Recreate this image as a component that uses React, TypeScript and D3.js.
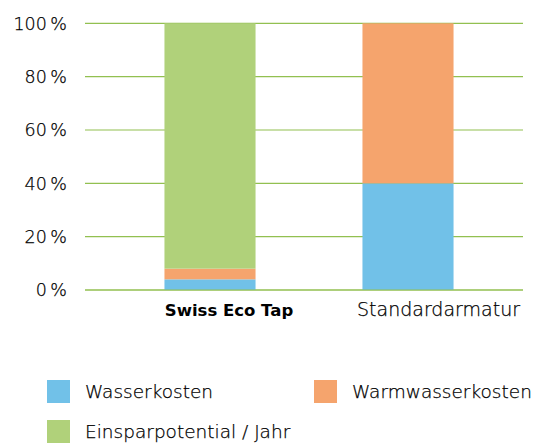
import React from "react";
import * as d3 from "d3";

const categories = ["Swiss Eco Tap", "Standardarmatur"];
const seriesNames = ["Wasserkosten", "Warmwasserkosten", "Einsparpotential / Jahr"];
const wasserkosten = [4, 40];
const warmwasserkosten = [4, 60];
const einsparpotential = [92, 0];
const yTicks = [0, 20, 40, 60, 80, 100];
const colors = ["#71c1e8", "#f5a46d", "#b0d17a"];

const W = 546;
const H = 446;
const FONT = "'DejaVu Sans', sans-serif";

export default function App() {
  const y = d3.scaleLinear().domain([0, 100]).range([290, 23.3]);
  const x = d3.scaleBand().domain(categories).range([111, 507]).paddingInner(0.54).paddingOuter(0.27);
  const gridX0 = 85;
  const gridX1 = 523;
  const labelCenters = [229, 438.5];

  const rows = categories.map((c, i) => ({
    cat: c,
    w: wasserkosten[i],
    ww: warmwasserkosten[i],
    e: einsparpotential[i],
  }));
  const stack = d3.stack<any>().keys(["w", "ww", "e"])(rows);

  const legend = [
    { name: seriesNames[0], color: colors[0], x: 47, y: 380 },
    { name: seriesNames[1], color: colors[1], x: 314, y: 380 },
    { name: seriesNames[2], color: colors[2], x: 47, y: 420 },
  ];

  return (
    <svg width={W} height={H} style={{ position: "absolute", left: 0, top: 0 }} fontFamily={FONT}>
      <rect width={W} height={H} fill="#fff" />
      {yTicks.map((t) => (
        <g key={t}>
          <line x1={gridX0} x2={gridX1} y1={y(t)} y2={y(t)} stroke="#92c050" strokeWidth={1.2} />
          <text x={67} y={y(t)} dy="0.36em" textAnchor="end" fontSize={17.5} fontWeight={300} fill="#000" stroke="#000" strokeWidth={0.25}>
            {t}{"\u2009"}%
          </text>
        </g>
      ))}
      {stack.map((s, si) => (
        <g key={si} fill={colors[si]}>
          {s.map((d, i) =>
            d[1] - d[0] > 0 ? (
              <rect
                key={i}
                x={x(categories[i])!}
                width={x.bandwidth()}
                y={y(d[1])}
                height={y(d[0]) - y(d[1])}
              />
            ) : null
          )}
        </g>
      ))}
      <line x1={gridX0} x2={gridX1} y1={y(0)} y2={y(0)} stroke="#92c050" strokeWidth={1.2} />
      {categories.map((c, i) => (
        <text
          key={c}
          x={labelCenters[i]}
          y={316}
          textAnchor="middle"
          fontSize={i === 0 ? 16.5 : 19}
          fontWeight={i === 0 ? "bold" : 300}
          fill="#000"
          stroke={i === 0 ? "none" : "#000"}
          strokeWidth={0.25}
        >
          {c}
        </text>
      ))}
      {legend.map((l) => (
        <g key={l.name}>
          <rect x={l.x} y={l.y} width={23} height={23} fill={l.color} />
          <text x={l.x + 38} y={l.y + 11.5} dy="0.36em" fontSize={18.5} fontWeight={300} fill="#000" stroke="#000" strokeWidth={0.25}>
            {l.name}
          </text>
        </g>
      ))}
    </svg>
  );
}
